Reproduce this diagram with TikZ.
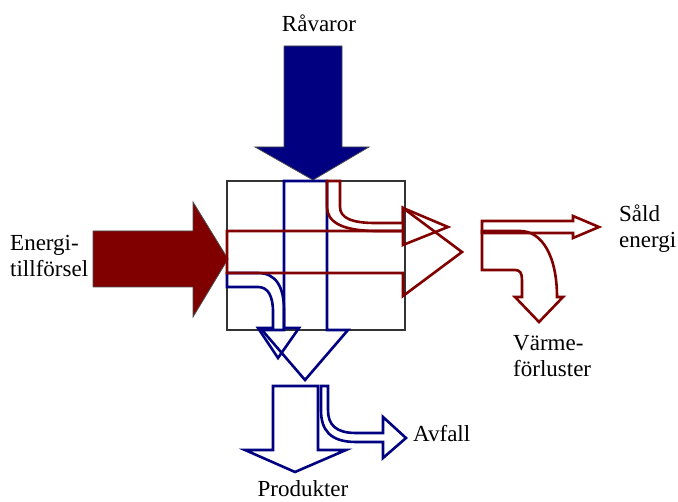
\documentclass[tikz,border=0pt]{standalone}
\usepackage{fontspec}
\setmainfont{Liberation Serif}
\usepackage{xcolor}
\usepackage{tikz}
\usetikzlibrary{positioning}
\definecolor{rawblue}{RGB}{0,0,128}
\definecolor{energyred}{RGB}{128,0,0}
\tikzset{
  solidin/.style={line width=0.8pt, draw=black!70, line join=miter},
  bluein/.style={solidin, fill=rawblue},
  redin/.style={solidin, fill=energyred},
  blueflow/.style={draw=rawblue, line width=2.6pt, line join=miter},
  redflow/.style={draw=energyred, line width=2.6pt, line join=miter},
  frame/.style={draw=black!80, line width=1.3pt},
  lbl/.style={font=\fontsize{23}{26}\selectfont, inner sep=0pt, align=left},
}
\begin{document}
\begin{tikzpicture}[x=1pt, y=-1pt]
\useasboundingbox (0,0) rectangle (678,502);
% ---- incoming flows ----
\draw[bluein] (284,46) -- (342,46) -- (342,147) -- (369,147) -- (313,180)
  -- (255,147) -- (284,147) -- cycle;
\draw[redin] (93,231) -- (193,231) -- (193,202) -- (228,259) -- (193,317)
  -- (193,287) -- (93,287) -- cycle;
% ---- process box ----
\draw[frame] (227,181) rectangle (405,330);
% ---- material through the box ----
\draw[blueflow] (284,181) -- (327,181) -- (327,330) -- (348,330) -- (305,380)
  -- (262,330) -- (284,330) -- cycle;
\draw[blueflow] (227,273) -- (258,273) .. controls (276,273) and (284,287) .. (284,310)
  -- (284,328) -- (299,328) -- (278,358) -- (258,328) -- (273,328) -- (273,312)
  .. controls (273,296) and (268,287) .. (258,287) -- (227,287) -- cycle;
% ---- energy through the box ----
\draw[redflow] (227,231) -- (403,231) -- (403,208) -- (462,252) -- (403,296)
  -- (403,273) -- (227,273) -- cycle;
\draw[redflow] (327,181) -- (340,181) -- (340,207) .. controls (340,218) and (352,223) .. (375,223)
  -- (403,223) -- (403,208) -- (448,227) -- (403,245) -- (403,231) -- (377,231)
  .. controls (342,231) and (327,222) .. (327,207) -- cycle;
% ---- energy split ----
\draw[redflow] (482,221) -- (573,221) -- (573,216) -- (599,227) -- (573,238)
  -- (573,233) -- (482,233) -- cycle;
\draw[redflow] (482,231) -- (520,231) .. controls (542,231) and (557,256) .. (557,297)
  -- (563,297) -- (539,322) -- (515,297) -- (522,297) -- (522,280)
  .. controls (522,273) and (520,270) .. (515,270) -- (482,270) -- cycle;
% ---- material split ----
\draw[blueflow] (273,386) -- (318,386) -- (318,450) -- (346,450) -- (295,472)
  -- (245,450) -- (273,450) -- cycle;
\draw[blueflow] (321,386) -- (328,386) -- (328,410) .. controls (328,425) and (336,433) .. (356,433)
  -- (383,433) -- (383,417) -- (406,438) -- (383,458) -- (383,442) -- (356,442)
  .. controls (330,442) and (321,430) .. (321,410) -- cycle;
% ---- labels ----
\node[lbl, anchor=base] (ravaror) at (319,32) {Råvaror};
\node[lbl, anchor=base west] (energi) at (10,277) {Energi-\\tillförsel};
\node[lbl, anchor=base west] (sald) at (619,248) {Såld\\energi};
\node[lbl, anchor=base west] (varme) at (513,377) {Värme-\\förluster};
\node[lbl, anchor=base west] (avfall) at (413,442) {Avfall};
\node[lbl, anchor=base] (produkter) at (303,497) {Produkter};
\end{tikzpicture}
\end{document}
